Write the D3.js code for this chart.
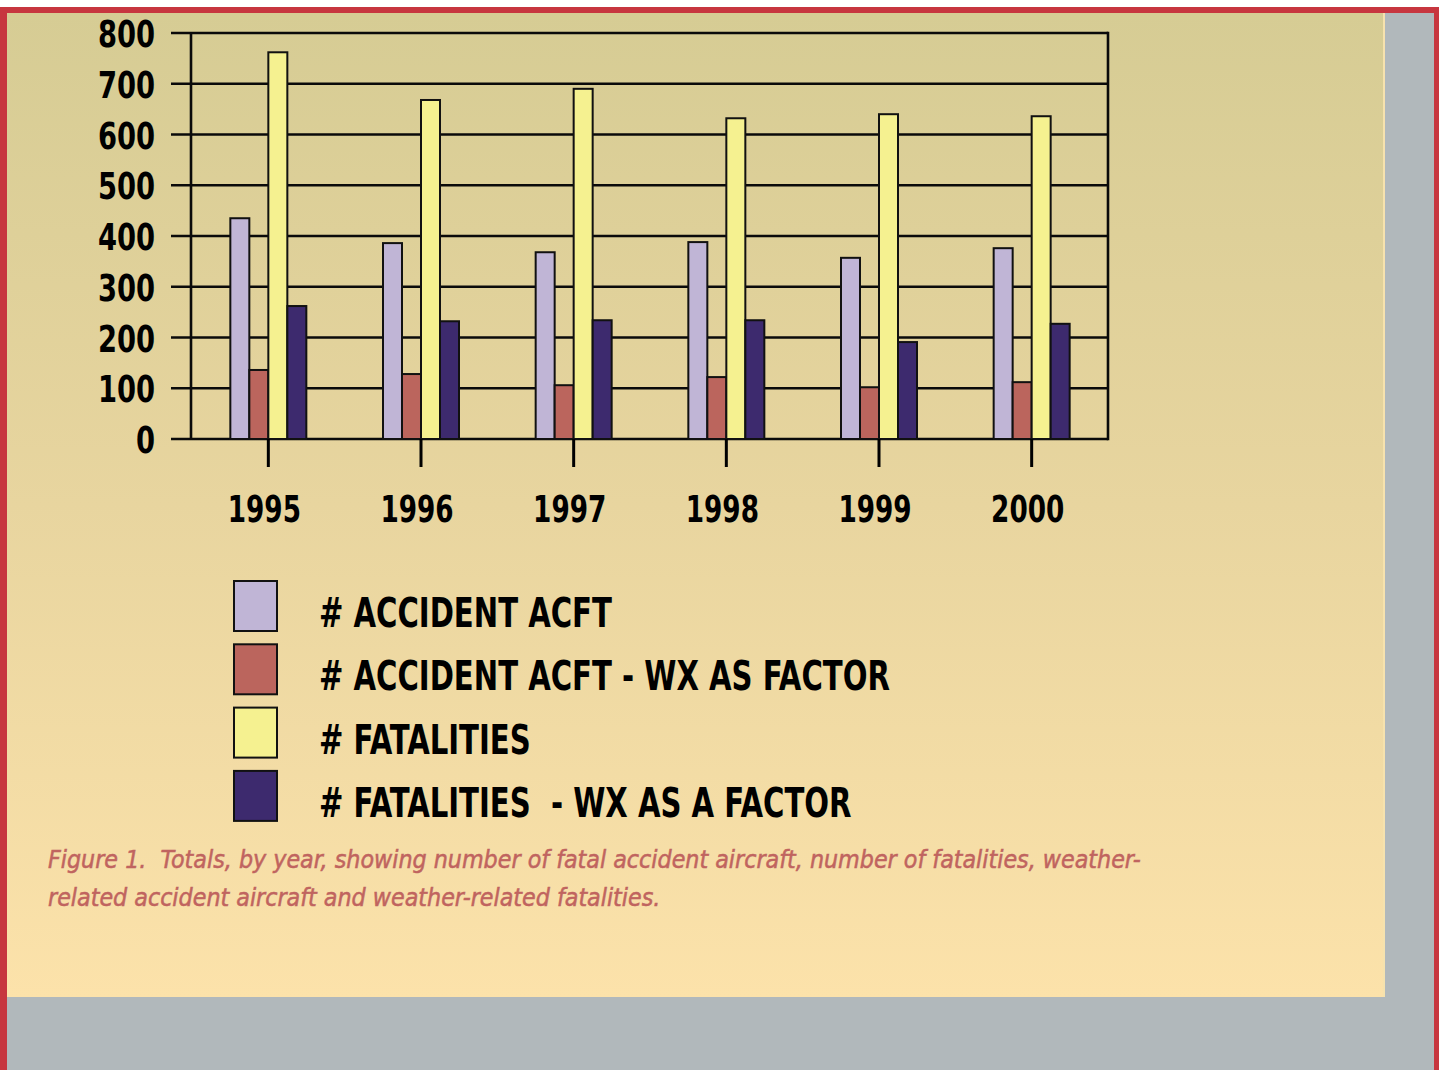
<!DOCTYPE html>
<html>
<head>
<meta charset="utf-8">
<script src="https://cdn.jsdelivr.net/npm/d3@7"></script>
<style>
  html, body { margin: 0; padding: 0; background: #ffffff; }
  svg { display: block; }
  .narrow { font-family: "Liberation Sans Narrow", "DejaVu Sans Condensed", "Roboto", sans-serif; }
</style>
</head>
<body>
<svg id="chart" width="1439" height="1070"></svg>
<script>
const years = ["1995", "1996", "1997", "1998", "1999", "2000"];
const series_names = ["# ACCIDENT ACFT", "# ACCIDENT ACFT - WX AS FACTOR", "# FATALITIES", "# FATALITIES  - WX AS A FACTOR"];
const accident_acft = [435, 386, 368, 388, 357, 376];
const accident_acft_wx = [136, 128, 106, 122, 102, 112];
const fatalities = [762, 668, 690, 632, 640, 636];
const fatalities_wx = [262, 232, 234, 234, 191, 227];
const y_ticks = [0, 100, 200, 300, 400, 500, 600, 700, 800];
const caption_lines = [
    "Figure 1.  Totals, by year, showing number of fatal accident aircraft, number of fatalities, weather-",
    "related accident aircraft and weather-related fatalities."
];

const colors = ["#c0b5d6", "#bb655d", "#f5f190", "#3d2a6e"];
const all_series = [accident_acft, accident_acft_wx, fatalities, fatalities_wx];

// condensed look: squeeze the fallback font horizontally
const squeeze = 0.8;

const svg = d3.select("#chart");

// background gradient
const defs = svg.append("defs");
const grad = defs.append("linearGradient")
    .attr("id", "bg_grad")
    .attr("x1", 0).attr("y1", 0).attr("x2", 0).attr("y2", 1);
grad.append("stop").attr("offset", "0%").attr("stop-color", "#d6cc94");
grad.append("stop").attr("offset", "50%").attr("stop-color", "#e8d59f");
grad.append("stop").attr("offset", "100%").attr("stop-color", "#fce2aa");

// frame: red border, gray panel, gradient sheet
svg.append("rect").attr("x", 0).attr("y", 7).attr("width", 1439).attr("height", 1063).attr("fill", "#c7363f");
svg.append("rect").attr("x", 7).attr("y", 13).attr("width", 1427).attr("height", 1057).attr("fill", "#b1b8bb");
svg.append("rect").attr("x", 7).attr("y", 13).attr("width", 1378).attr("height", 984).attr("fill", "url(#bg_grad)");
svg.append("line").attr("x1", 1384).attr("x2", 1384).attr("y1", 13).attr("y2", 997)
    .attr("stroke", "#f6e2ae").attr("stroke-width", 2);

// scales
const x = d3.scaleBand().domain(years).range([192, 1108]).padding(0);
const inner = d3.scaleBand().domain(d3.range(4)).range([-38, 38]);
const y = d3.scaleLinear().domain([0, 800]).range([439, 33]);

// gridlines
const grid = svg.append("g");
grid.selectAll("line")
    .data(y_ticks)
    .enter()
    .append("line")
    .attr("x1", 171)
    .attr("x2", 1108)
    .attr("y1", d => y(d))
    .attr("y2", d => y(d))
    .attr("stroke", "#0a0a0a")
    .attr("stroke-width", 2.6);

// vertical frame lines
svg.append("line").attr("x1", 191).attr("x2", 191).attr("y1", y(800)).attr("y2", y(0))
    .attr("stroke", "#0a0a0a").attr("stroke-width", 2.6);
svg.append("line").attr("x1", 1108).attr("x2", 1108).attr("y1", y(800) - 1.3).attr("y2", y(0) + 1.3)
    .attr("stroke", "#0a0a0a").attr("stroke-width", 2.6);

// y labels
svg.append("g").selectAll("text")
    .data(y_ticks)
    .enter()
    .append("text")
    .attr("class", "narrow")
    .attr("transform", d => `translate(155, ${y(d) + 14}) scale(${squeeze}, 1)`)
    .attr("text-anchor", "end")
    .attr("font-size", 38)
    .attr("font-weight", "bold")
    .attr("fill", "#000")
    .text(d => d);

// bars
const bar_data = [];
years.forEach((yr, i) => {
    all_series.forEach((s, k) => {
        bar_data.push({ year: yr, k: k, value: s[i] });
    });
});

svg.append("g").selectAll("rect")
    .data(bar_data)
    .enter()
    .append("rect")
    .attr("x", d => x(d.year) + x.bandwidth() / 2 + inner(d.k))
    .attr("y", d => y(d.value))
    .attr("width", inner.bandwidth())
    .attr("height", d => y(0) - y(d.value))
    .attr("fill", d => colors[d.k])
    .attr("stroke", "#111")
    .attr("stroke-width", 2);

// category ticks
svg.append("g").selectAll("line")
    .data(years)
    .enter()
    .append("line")
    .attr("x1", d => x(d) + x.bandwidth() / 2)
    .attr("x2", d => x(d) + x.bandwidth() / 2)
    .attr("y1", y(0))
    .attr("y2", 467)
    .attr("stroke", "#000")
    .attr("stroke-width", 3);

// year labels
svg.append("g").selectAll("text")
    .data(years)
    .enter()
    .append("text")
    .attr("class", "narrow")
    .attr("transform", d => `translate(${x(d) + x.bandwidth() / 2 - 4}, 522) scale(0.79, 1)`)
    .attr("text-anchor", "middle")
    .attr("font-size", 37)
    .attr("font-weight", "bold")
    .attr("fill", "#000")
    .text(d => d);

// legend
const legend = svg.append("g");
const legend_rows = legend.selectAll("g")
    .data(series_names)
    .enter()
    .append("g")
    .attr("transform", (d, i) => `translate(0, ${581 + i * 63.3})`);

legend_rows.append("rect")
    .attr("x", 234)
    .attr("y", 0)
    .attr("width", 43)
    .attr("height", 50)
    .attr("fill", (d, i) => colors[i])
    .attr("stroke", "#111")
    .attr("stroke-width", 2);

legend_rows.append("text")
    .attr("class", "narrow")
    .attr("transform", "translate(319, 46) scale(0.79, 1)")
    .attr("font-size", 41)
    .attr("font-weight", "bold")
    .attr("fill", "#000")
    .style("white-space", "pre")
    .text(d => d);

// caption (a thin stroke to get the heavier weight of the original)
svg.append("g").selectAll("text")
    .data(caption_lines)
    .enter()
    .append("text")
    .attr("class", "narrow")
    .attr("transform", (d, i) => `translate(48, ${868 + i * 38}) scale(0.99, 1)`)
    .attr("font-size", 25)
    .attr("font-style", "italic")
    .attr("fill", "#c0645f")
    .attr("stroke", "#c0645f")
    .attr("stroke-width", 0.5)
    .style("white-space", "pre")
    .text(d => d);
</script>
</body>
</html>
